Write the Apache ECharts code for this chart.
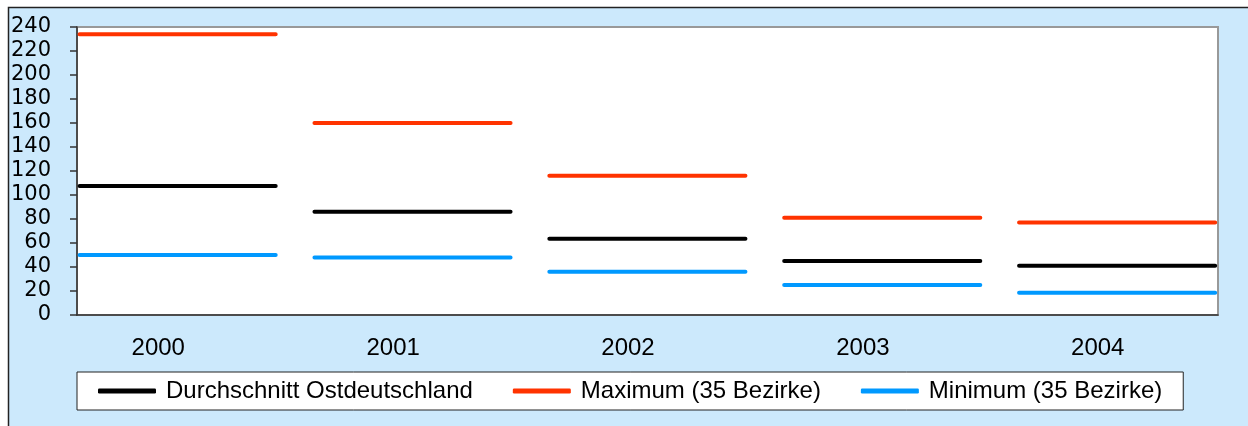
<!DOCTYPE html>
<html>
<head>
<meta charset="utf-8">
<script src="https://cdn.jsdelivr.net/npm/echarts@6/dist/echarts.min.js"></script>
<style>
html, body { margin: 0; padding: 0; background: #fff; }
#main { width: 1248px; height: 426px; }
</style>
</head>
<body>
<div id="main"></div>
<script>
// Daten
const years = ['2000', '2001', '2002', '2003', '2004']
const durchschnitt = [107.5, 86, 63.5, 45, 41]
const maximum = [234, 160, 116, 81, 77]
const minimum = [50, 48, 36, 25, 18.5]

// jedes Jahr als waagerechte Strecke, getrennt durch '-'
function segments (values) {
  const out = []
  values.forEach((v, i) => {
    out.push([i - 0.335, v], [i + 0.5, v], [i + 0.6, '-'])
  })
  return out
}

function lineSeries (name, color, values) {
  return {
    name: name,
    type: 'line',
    data: segments(values),
    showSymbol: false,
    symbol: 'none',
    connectNulls: false,
    lineStyle: { color: color, width: 4, cap: 'round' },
    itemStyle: { color: color },
    z: 3
  }
}

const chart = echarts.init(document.getElementById('main'))
chart.setOption({
  animation: false,
  textStyle: { fontFamily: 'Liberation Sans' },
  graphic: [{
    type: 'rect',
    z: -10,
    silent: true,
    shape: { x: 8.5, y: 7.5, width: 1300, height: 500 },
    style: { fill: '#cce9fc', stroke: '#222', lineWidth: 1.5 }
  }],
  grid: {
    left: 77, right: 30, top: 27, bottom: 111,
    show: true,
    backgroundColor: '#fff',
    borderColor: '#999',
    borderWidth: 2
  },
  xAxis: {
    type: 'value',
    min: -0.346,
    max: 4.512,
    splitLine: { show: false },
    axisTick: { show: false },
    axisLine: { show: true, onZero: false, lineStyle: { color: '#333', width: 1.5 } },
    axisLabel: {
      customValues: [0, 1, 2, 3, 4],
      formatter: v => years[Math.round(v)],
      fontFamily: 'Liberation Sans',
      fontSize: 24,
      color: '#000',
      margin: 21
    }
  },
  yAxis: {
    type: 'value',
    min: 0,
    max: 240,
    interval: 20,
    splitLine: { show: false },
    axisLine: { show: true, onZero: false, lineStyle: { color: '#333', width: 1.5 } },
    axisTick: { show: true, length: 7, lineStyle: { color: '#333', width: 1.5 } },
    axisLabel: {
      fontFamily: 'DejaVu Sans',
      fontSize: 21,
      color: '#000',
      margin: 26
    }
  },
  legend: {
    left: 77,
    top: 372,
    backgroundColor: '#fff',
    borderColor: '#222',
    borderWidth: 1,
    padding: [7, 21, 7, 21],
    itemGap: 40,
    itemWidth: 58,
    itemHeight: 5,
    icon: 'roundRect',
    textStyle: { fontFamily: 'Liberation Sans', fontSize: 24, color: '#000', padding: [0, 0, 0, 5] },
    data: ['Durchschnitt Ostdeutschland', 'Maximum (35 Bezirke)', 'Minimum (35 Bezirke)']
  },
  series: [
    lineSeries('Durchschnitt Ostdeutschland', '#000000', durchschnitt),
    lineSeries('Maximum (35 Bezirke)', '#ff3300', maximum),
    lineSeries('Minimum (35 Bezirke)', '#0099ff', minimum)
  ]
})
</script>
</body>
</html>
